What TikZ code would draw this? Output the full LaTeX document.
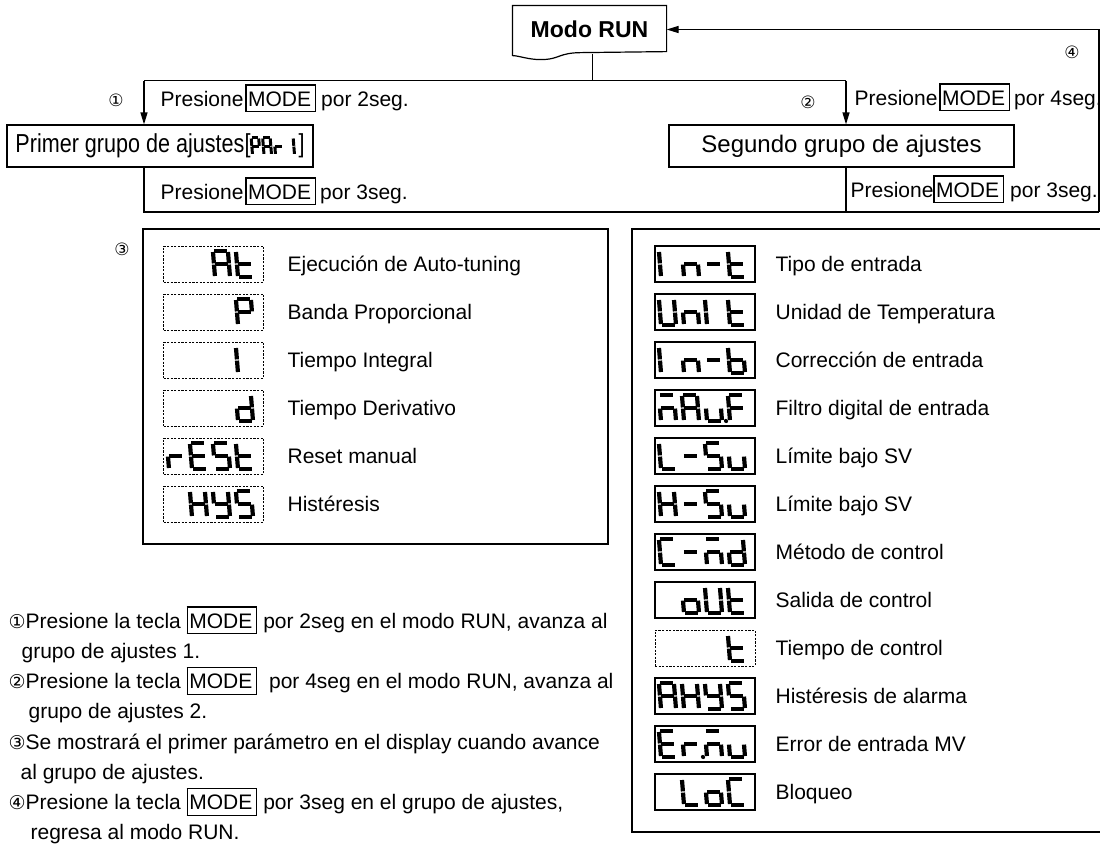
\documentclass[tikz,border=0pt]{standalone}
\usepackage{graphicx}
\usepackage{fontspec}
\setmainfont{Liberation Sans}
\newfontfamily\circfont{DejaVu Sans}
\usetikzlibrary{arrows.meta}

% display segments, one glyph is 15 x 26
\newcommand{\dsa}{\draw (1,26) -- (14,26);}
\newcommand{\dsb}{\draw (15,25) -- (15,13.6);}
\newcommand{\dsc}{\draw (15,12.4) -- (15,1);}
\newcommand{\dsd}{\draw (1,0) -- (14,0);}
\newcommand{\dse}{\draw (0,1) -- (0,12.4);}
\newcommand{\dsf}{\draw (0,13.6) -- (0,25);}
\newcommand{\dsg}{\draw (1,13) -- (14,13);}
\newcommand{\dsp}{\fill (19,0) circle (2.1);}
\newcommand{\dsx}{}

\newcommand{\sevdisp}[4][]{%
  \edef\seglist{#4}%
  \begin{scope}[shift={(#2,#3)}, yscale=-1, xslant=0.08, line width=4.2pt, #1]
    \foreach \dg [count=\i] in \seglist {
      \begin{scope}[shift={(23*\i-23,0)}]
        \foreach \s in \dg {\csname ds\s\endcsname}
      \end{scope}
    }
  \end{scope}}

\newcommand{\modekey}{{\setlength{\fboxsep}{0pt}\setlength{\fboxrule}{1.1pt}%
  \fbox{\rule[-5pt]{0pt}{25.5pt}\kern1.5pt MODE\kern4pt}}}
\newcommand{\cnum}[1]{{\circfont\fontsize{19}{19}\selectfont #1}}

\begin{document}
\begin{tikzpicture}[x=1pt, y=-1pt, line width=1.2pt,
    every node/.style={font=\fontsize{21}{25}\selectfont, inner sep=0pt},
    flowbox/.style={draw, minimum height=42pt},
    disp/.style={draw, line width=1.2pt, minimum width=100pt, minimum height=36pt},
    dispd/.style={disp, line width=0.9pt, dash pattern=on 2.2pt off 1.4pt},
    numlabel/.style={font=\circfont\fontsize{17}{17}\selectfont},
    arr/.style={-{Triangle[length=12pt,width=7pt]}}]
\useasboundingbox (0,0) rectangle (1100,844);

% flow at the top
\node[minimum width=153pt, minimum height=47pt, font=\fontsize{23}{23}\selectfont\bfseries] (run) at (589.5,29.5) {Modo RUN};
\draw (run.north west) -- (run.north east) -- ([yshift=2pt]run.south east)
  -- ([xshift=70pt,yshift=1pt]run.south west) .. controls +(-25,0) and +(20,0) .. ([xshift=28pt,yshift=-6pt]run.south west)
  .. controls +(-12,0) and +(6,0) .. ([yshift=-2pt]run.south west) -- cycle;

\node[flowbox, minimum width=306pt] (pri) at (160,146)
  {\scalebox{0.83}[1]{\fontsize{26}{26}\selectfont Primer grupo de ajustes[}\hspace{48pt}\scalebox{0.83}[1]{\fontsize{26}{26}\selectfont ]}};
\sevdisp[xscale=0.5, yscale=0.64, line width=3pt]{252.5}{154.5}{{a,b,e,f,g},{a,b,c,e,f,g},{e,g},{b,c}}
\node[flowbox, minimum width=345pt, font=\fontsize{24}{24}\selectfont] (seg) at (841.5,146) {Segundo grupo de ajustes};

\coordinate (jl) at (144,80.5);
\coordinate (jr) at (846,80.5);
\coordinate (jb) at (144,212);
\coordinate (rt) at (1099,212);

\draw ([xshift=3pt]run.south) -- ([xshift=3pt]run.south |- jl);
\draw (jl) -- (jr);
\draw[arr] (jl) -- (jl |- pri.north);
\draw[arr] (jr) -- (jr |- seg.north);
\draw (jl |- pri.south) -- (jb) -- (rt);
\draw (jr |- seg.south) -- (jr |- jb);
\draw[arr] (rt) |- (run.east);

\node[anchor=base west] (lab1) at (160,106) {Presione\kern2pt\modekey\kern5pt por 2seg.};
\node[anchor=base west] (lab2) at (854,105) {Presione\kern2pt\modekey\kern4pt por 4seg.};
\node[anchor=base west] (lab3) at (160,199) {Presione\kern2pt\modekey\kern4pt por 3seg.};
\node[anchor=base west] (lab4) at (850,197) {Presione\modekey\kern6pt por 3seg.};

\node[numlabel] (m1) at (116,100) {①};
\node[numlabel] (m2) at (808,102) {②};
\node[numlabel] (m3) at (122,249) {③};
\node[numlabel] (m4) at (1072,52) {④};

% first group
\draw[line width=1.4pt] (143,229) rectangle (608,544);
\foreach \segs/\txt [count=\row, evaluate=\row as \y using 264+48*(\row-1)] in {
    {{x},{x},{a,b,c,e,f,g},{d,e,f,g}}/Ejecución de Auto-tuning,
    {{x},{x},{x},{a,b,e,f,g}}/Banda Proporcional,
    {{x},{x},{x},{e,f}}/Tiempo Integral,
    {{x},{x},{x},{b,c,d,e,g}}/Tiempo Derivativo,
    {{e,g},{a,d,e,f,g},{a,c,d,f,g},{d,e,f,g}}/Reset manual,
    {{x},{b,c,e,f,g},{b,c,d,f,g},{a,c,d,f,g}}/Histéresis} {
  \node[dispd] (ld\row) at (213.5,\y) {};
  \sevdisp{169}{\y+13}{\segs}
  \node[anchor=base west] (lt\row) at (287,\y+7.5) {\txt};
}

% second group
\draw[line width=1.4pt] (632,229) rectangle (1110,832);
\foreach \segs/\txt/\bs [count=\row, evaluate=\row as \y using 264+48*(\row-1)] in {
    {{e,f},{c,e,g},{g},{d,e,f,g}}/Tipo de entrada/disp,
    {{b,c,d,e,f},{c,e,g},{e,f},{d,e,f,g}}/Unidad de Temperatura/disp,
    {{e,f},{c,e,g},{g},{c,d,e,f,g}}/Corrección de entrada/disp,
    {{a,c,e,g},{a,b,c,e,f,g},{c,d,e,p},{a,e,f,g}}/Filtro digital de entrada/disp,
    {{d,e,f},{g},{a,c,d,f,g},{c,d,e}}/Límite bajo SV/disp,
    {{b,c,e,f,g},{g},{a,c,d,f,g},{c,d,e}}/Límite bajo SV/disp,
    {{a,d,e,f},{g},{a,c,e,g},{b,c,d,e,g}}/Método de control/disp,
    {{x},{c,d,e,g},{b,c,d,e,f},{d,e,f,g}}/Salida de control/disp,
    {{x},{x},{x},{d,e,f,g}}/Tiempo de control/dispd,
    {{a,b,c,e,f,g},{b,c,e,f,g},{b,c,d,f,g},{a,c,d,f,g}}/Histéresis de alarma/disp,
    {{a,d,e,f,g},{e,g,p},{a,c,e,g},{c,d,e}}/Error de entrada MV/disp,
    {{x},{d,e,f},{c,d,e,g},{a,d,e,f}}/Bloqueo/disp} {
  \node[\bs] (rd\row) at (705,\y) {};
  \sevdisp{661}{\y+13}{\segs}
  \node[anchor=base west] (rt\row) at (775,\y+7.5) {\txt};
}

% notes
\foreach \x/\y/\note [count=\k] in {
    8/628/{\cnum{①}Presione la tecla \modekey\ por 2seg en el modo RUN, avanza al},
    21/658.3/{grupo de ajustes 1.},
    8/688.6/{\cnum{②}Presione la tecla\ \modekey\ \ por 4seg en el modo RUN, avanza al},
    28/718.9/{grupo de ajustes 2.},
    8/749.2/{\cnum{③}Se mostrará el primer parámetro en el display cuando avance},
    20/779.5/{al grupo de ajustes.},
    8/809.8/{\cnum{④}Presione la tecla\ \modekey\ por 3seg en el grupo de ajustes,},
    30/839.5/{regresa al modo RUN.}} {
  \node[anchor=base west] (note\k) at (\x,\y) {\note};
}
\end{tikzpicture}
\end{document}
